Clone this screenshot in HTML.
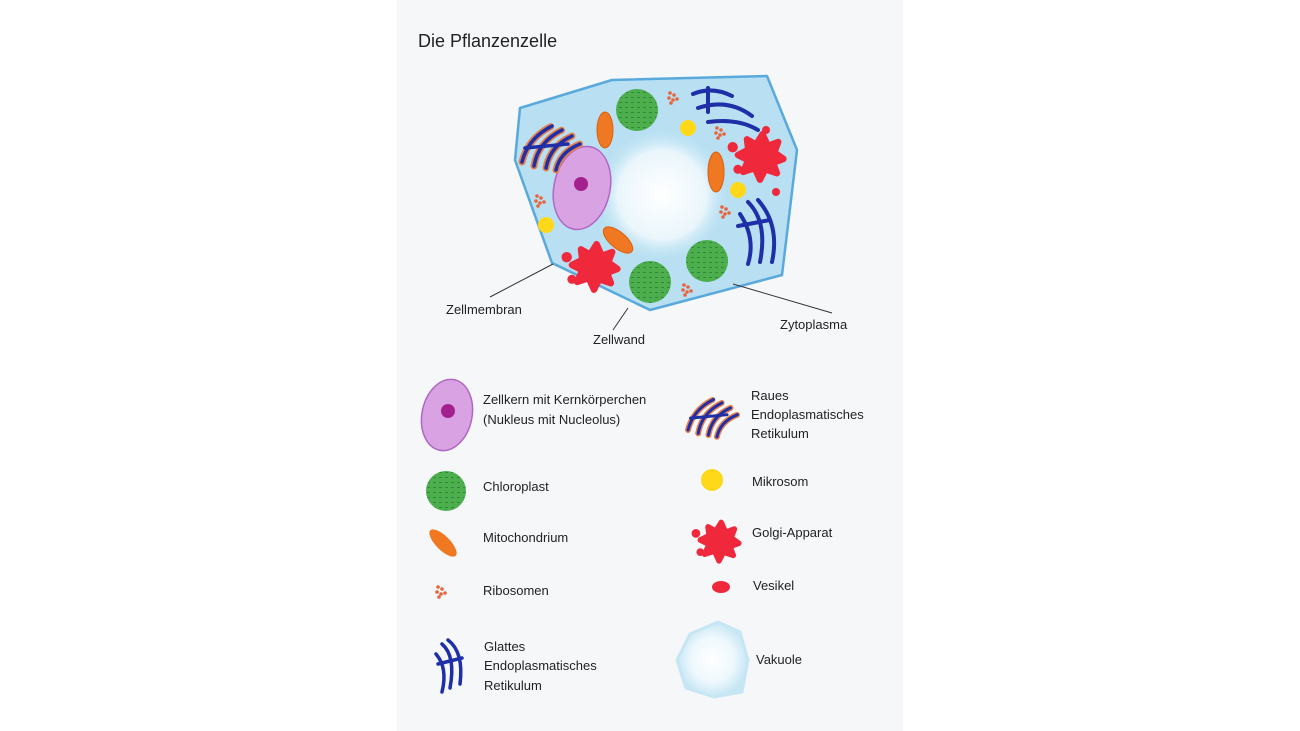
<!DOCTYPE html>
<html><head><meta charset="utf-8"><style>
body{margin:0;background:#fff;width:1300px;height:731px;overflow:hidden}
svg{display:block}
text{font-family:"Liberation Sans",sans-serif;fill:#222}
</style></head><body>
<svg width="1300" height="731" viewBox="0 0 1300 731">
<defs>
<radialGradient id="vac" cx="50%" cy="50%" r="50%">
<stop offset="0" stop-color="#ffffff"/><stop offset="0.6" stop-color="#eef8fd"/><stop offset="1" stop-color="#c6e6f5"/></radialGradient>
<radialGradient id="vac2" cx="50%" cy="50%" r="50%">
<stop offset="0" stop-color="#ffffff"/><stop offset="0.65" stop-color="#eaf6fc"/><stop offset="1" stop-color="#b8e0f2" stop-opacity="0"/></radialGradient>
<pattern id="chl" width="6" height="5" patternUnits="userSpaceOnUse"><rect width="6" height="5" fill="#4cae4c"/><rect x="1" y="2" width="3" height="1" fill="#2f8a33"/></pattern>
<g id="gol"><path d="M-10,-12 L-3,-8 L2,-16 L6,-7 L14,-10 L11,-2 L18,3 L10,6 L13,14 L4,11 L0,19 L-4,10 L-13,13 L-9,4 L-17,0 L-9,-4 Z" fill="#f0283c" stroke="#f0283c" stroke-width="5" stroke-linejoin="round"/><circle cx="-21" cy="-6" r="4" fill="#f0283c"/><circle cx="-17" cy="11" r="3.5" fill="#f0283c"/></g>
<g id="rib" fill="#e8643c"><circle cx="0" cy="0" r="1.8"/><circle cx="4" cy="2" r="1.8"/><circle cx="-1" cy="5" r="1.8"/><circle cx="3" cy="7" r="1.8"/><circle cx="7" cy="6" r="1.8"/><circle cx="1" cy="10" r="1.8"/></g>
<g id="rer" fill="none" stroke-linecap="round"><g stroke="#e8804a" stroke-width="7" stroke-dasharray="1.5 2"><path d="M0,40 Q6,16 30,4"/><path d="M12,44 Q16,20 40,8"/><path d="M24,46 Q28,24 50,14"/><path d="M34,48 Q38,30 58,22"/></g><g stroke="#1e2fa8" stroke-width="3.5"><path d="M0,40 Q6,16 30,4"/><path d="M12,44 Q16,20 40,8"/><path d="M24,46 Q28,24 50,14"/><path d="M34,48 Q38,30 58,22"/><path d="M3,26 L46,22"/></g></g>
</defs>
<rect x="397" y="0" width="506" height="731" fill="#f5f7f9"/>
<text x="418" y="47" font-size="18">Die Pflanzenzelle</text>
<!-- cell -->
<polygon points="520,108 612,80 767,76 797,150 782,275 650,310 552,263 515,160" fill="#b8e0f2" stroke="#5aa9dc" stroke-width="2.5" stroke-linejoin="round"/>
<circle cx="662" cy="195" r="68" fill="url(#vac2)"/>
<ellipse cx="582" cy="188" rx="28" ry="42" transform="rotate(12 582 188)" fill="#d9a2e2" stroke="#b068c4" stroke-width="1.5"/>
<circle cx="581" cy="184" r="7" fill="#a5208f"/>
<circle cx="637" cy="110" r="21" fill="url(#chl)"/>
<circle cx="650" cy="282" r="21" fill="url(#chl)"/>
<circle cx="707" cy="261" r="21" fill="url(#chl)"/>
<ellipse cx="605" cy="130" rx="8" ry="18" fill="#f07822" stroke="#d86010"/>
<ellipse cx="618" cy="240" rx="8" ry="18" transform="rotate(-50 618 240)" fill="#f07822" stroke="#d86010"/>
<ellipse cx="716" cy="172" rx="8" ry="20" fill="#f07822" stroke="#d86010"/>
<circle cx="688" cy="128" r="8" fill="#ffd81a"/>
<circle cx="738" cy="190" r="8" fill="#ffd81a"/>
<circle cx="546" cy="225" r="8" fill="#ffd81a"/>
<g transform="translate(760,155) scale(1.3)"><use href="#gol"/></g>
<circle cx="766" cy="130" r="4" fill="#f0283c"/><circle cx="776" cy="192" r="4" fill="#f0283c"/>
<g transform="translate(594,265) scale(1.3)"><use href="#gol"/></g>
<g transform="translate(522,122)"><use href="#rer"/></g>
<g fill="none" stroke="#1e2fa8" stroke-width="4" stroke-linecap="round">
<path d="M693,94 Q712,86 732,96"/><path d="M698,108 Q728,98 752,116"/><path d="M708,122 Q738,118 758,130"/><path d="M708,88 L708,112"/>
<path d="M748,202 Q768,222 760,262"/><path d="M740,214 Q756,238 748,264"/><path d="M758,200 Q780,225 772,262"/><path d="M738,226 L770,220"/>
</g>
<use href="#rib" x="670" y="93"/><use href="#rib" x="717" y="128"/><use href="#rib" x="537" y="196"/><use href="#rib" x="722" y="207"/><use href="#rib" x="684" y="285"/>
<!-- leaders -->
<g stroke="#333" stroke-width="1"><line x1="490" y1="297" x2="553" y2="264"/><line x1="613" y1="330" x2="628" y2="308"/><line x1="832" y1="313" x2="733" y2="284"/></g>
<g font-size="13"><text x="446" y="314">Zellmembran</text><text x="593" y="344">Zellwand</text><text x="780" y="329">Zytoplasma</text></g>
<!-- legend -->
<ellipse cx="447" cy="415" rx="25" ry="36" transform="rotate(12 447 415)" fill="#d9a2e2" stroke="#b068c4" stroke-width="1.5"/>
<circle cx="448" cy="411" r="7" fill="#a5208f"/>
<circle cx="446" cy="491" r="20" fill="url(#chl)"/>
<ellipse cx="443" cy="543" rx="7" ry="18" transform="rotate(-45 443 543)" fill="#f07822"/>
<use href="#rib" x="438" y="587"/>
<g fill="none" stroke="#1e2fa8" stroke-width="3.5" stroke-linecap="round">
<path d="M442,644 Q456,656 450,688"/><path d="M436,654 Q448,668 442,692"/><path d="M448,640 Q464,652 460,684"/><path d="M438,664 L462,658"/>
</g>
<g transform="translate(688,396) scale(0.85)"><use href="#rer"/></g>
<circle cx="712" cy="480" r="11" fill="#ffd81a"/>
<g transform="translate(719,540) scale(1.1)"><use href="#gol"/></g>
<ellipse cx="721" cy="587" rx="9" ry="6" fill="#f0283c"/>
<path d="M690,634 L718,622 L740,632 L748,660 L742,692 L714,697 L686,688 L677,660 Z" fill="url(#vac)" stroke="#c7e6f4" stroke-width="3" stroke-linejoin="round"/>
<g font-size="13">
<text x="483" y="404">Zellkern mit Kernkörperchen</text><text x="483" y="424">(Nukleus mit Nucleolus)</text>
<text x="483" y="491">Chloroplast</text>
<text x="483" y="542">Mitochondrium</text>
<text x="483" y="595">Ribosomen</text>
<text x="484" y="651">Glattes</text><text x="484" y="670">Endoplasmatisches</text><text x="484" y="690">Retikulum</text>
<text x="751" y="400">Raues</text><text x="751" y="419">Endoplasmatisches</text><text x="751" y="438">Retikulum</text>
<text x="752" y="486">Mikrosom</text>
<text x="752" y="537">Golgi-Apparat</text>
<text x="753" y="590">Vesikel</text>
<text x="756" y="664">Vakuole</text>
</g>
</svg>
</body></html>
